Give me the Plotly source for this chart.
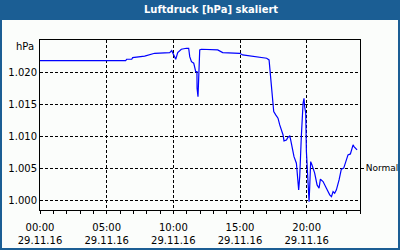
import plotly.graph_objects as go

# time in hours since 29.11.16 00:00
hours = [0, 3.65, 3.73, 4.48, 4.55, 6.43, 6.5, 6.88, 6.95, 7.85, 8.6, 9.73, 9.88, 10.03, 10.18,
         10.33, 10.6, 10.98, 11.15, 11.23, 11.36, 11.53, 11.68, 11.77, 11.78, 11.85, 11.93, 11.98,
         12.1, 13.33, 13.7, 14.98, 15.2, 16.48, 17.0, 17.18, 17.23, 17.28, 17.36, 17.43, 17.53,
         17.68, 17.85, 17.98, 18.1, 18.23, 18.3, 18.48, 18.6, 18.73, 18.8, 18.93, 19.05, 19.23,
         19.31, 19.35, 19.4, 19.48, 19.55, 19.6, 19.73, 19.8, 19.85, 19.93, 19.98, 20.06, 20.1,
         20.18, 20.23, 20.3, 20.4, 20.51, 20.6, 20.78, 20.93, 21.03, 21.23, 21.48, 21.73, 21.86,
         21.98, 22.1, 22.23, 22.43, 22.6, 22.78, 22.98, 23.1, 23.28, 23.48, 23.55, 23.78]
pressure = [1021.8, 1021.8, 1021.7, 1021.7, 1021.8, 1021.8, 1022.0, 1022.0, 1022.25, 1022.5,
            1022.93, 1023.03, 1023.34, 1022.67, 1022.0, 1023.03, 1023.56, 1023.71, 1023.71,
            1022.4, 1021.62, 1021.38, 1020.07, 1020.07, 1017.48, 1016.17, 1021.62, 1023.45,
            1023.56, 1023.45, 1023.03, 1022.93, 1022.67, 1022.36, 1022.15, 1021.89, 1020.64,
            1019.55, 1017.22, 1015.14, 1013.83, 1013.32, 1012.81, 1011.76, 1010.98, 1010.2,
            1009.27, 1009.42, 1009.85, 1010.05, 1009.42, 1008.13, 1006.82, 1005.8, 1003.97,
            1002.68, 1001.64, 1003.71, 1006.31, 1009.94, 1015.14, 1015.92, 1014.61, 1013.59,
            1007.6, 1004.24, 1001.37, 999.81, 1002.15, 1006.04, 1005.53, 1004.75, 1004.24,
            1002.41, 1001.9, 1003.3, 1002.93, 1001.9, 1000.86, 1000.59, 1001.37, 1001.12,
            1001.64, 1003.19, 1004.86, 1005.02, 1006.31, 1007.09, 1007.24, 1008.65, 1008.38,
            1007.87]

x_tickvals = [0, 5, 10, 15, 20]
x_ticktext = ["00:00<br>29.11.16", "05:00<br>29.11.16", "10:00<br>29.11.16",
              "15:00<br>29.11.16", "20:00<br>29.11.16"]
y_tickvals = [1000, 1005, 1010, 1015, 1020]
y_ticktext = ["1.000", "1.005", "1.010", "1.015", "1.020"]
normal_value = [1005]
normal_text = ["Normal"]
title_text = "Luftdruck [hPa] skaliert"
unit_text = "hPa"

FONT = "DejaVu Sans"
BLUE = "#1b5e94"

fig = go.Figure()
fig.add_trace(go.Scatter(x=hours, y=pressure, mode="lines",
                         line=dict(color="#0000ff", width=1.2), showlegend=False,
                         hoverinfo="skip"))
# invisible trace to activate right axis
fig.add_trace(go.Scatter(x=[hours[0]], y=[pressure[0]], yaxis="y2", mode="markers",
                         marker=dict(opacity=0), showlegend=False, hoverinfo="skip"))

W, H = 400, 250
L, R, T, B = 40, 40, 40, 40
pw, ph = W - L - R, H - T - B

def px(xp):
    return (xp - L) / pw

def py(yp):
    return (H - B - yp) / ph

fig.update_layout(
    width=W, height=H,
    margin=dict(l=L, r=R, t=T, b=B, autoexpand=False),
    paper_bgcolor=BLUE,
    plot_bgcolor="#ffffff",
    font=dict(family=FONT, size=10, color="#000000"),
    xaxis=dict(range=[0, 24], tickvals=x_tickvals, ticktext=x_ticktext,
               showgrid=True, gridcolor="#000000", griddash="3px,2px", gridwidth=1,
               showline=True, linecolor="#000000", linewidth=1, mirror=True,
               ticks="outside", ticklen=3, tickcolor="#000000", ticklabelstandoff=5,
               minor=dict(dtick=1, ticks="outside", ticklen=3, tickcolor="#000000", showgrid=False),
               zeroline=False, fixedrange=True, automargin=False, tickfont=dict(size=10)),
    yaxis=dict(range=[998.5, 1025], tickvals=y_tickvals, ticktext=y_ticktext,
               showgrid=True, gridcolor="#000000", griddash="3px,2px", gridwidth=1,
               showline=True, linecolor="#000000", linewidth=1, mirror=True,
               ticks="", zeroline=False, fixedrange=True, automargin=False,
               tickfont=dict(size=10)),
    yaxis2=dict(range=[998.5, 1025], overlaying="y", side="right",
                tickvals=normal_value, ticktext=normal_text, showgrid=False,
                ticks="outside", ticklen=3, tickcolor="#000000", showline=False,
                zeroline=False, fixedrange=True, automargin=False, ticklabelstandoff=0,
                tickfont=dict(size=9)),
    shapes=[
        dict(type="rect", xref="paper", yref="paper", x0=px(2), x1=px(398), y0=py(248), y1=py(20),
             fillcolor="#fbfdfb", line=dict(width=0), layer="below"),
    ],
    annotations=[
        dict(text="<b>" + title_text + "</b>", xref="paper", yref="paper", x=px(211), y=py(10),
             xanchor="center", yanchor="middle", showarrow=False,
             font=dict(family=FONT, size=10, color="#ffffff")),
        dict(text=unit_text, xref="paper", yref="paper", x=px(36), y=py(46),
             xanchor="right", yanchor="middle", showarrow=False,
             font=dict(family=FONT, size=10, color="#000000")),
    ],
)

fig.write_html("out.html")
